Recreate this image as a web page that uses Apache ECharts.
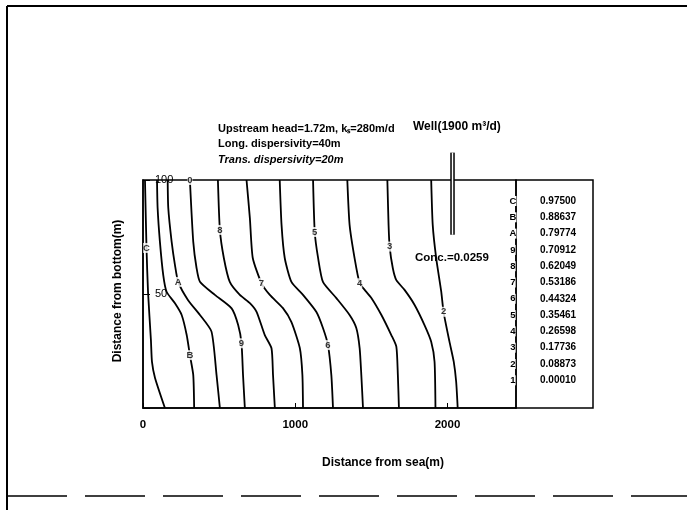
<!DOCTYPE html>
<html>
<head>
<meta charset="utf-8">
<script src="https://cdn.jsdelivr.net/npm/echarts@6/dist/echarts.min.js"></script>
<style>
  html, body { margin: 0; padding: 0; background: #fff; }
  #chart { width: 687px; height: 510px; }
</style>
</head>
<body>
<div id="chart"></div>
<script>
// contour lines, [distance from sea (m), distance from bottom (m)]
var lineC = [[13, 100], [23, 70.2], [33, 50.9], [52, 29.8], [59, 20.2], [79, 13.2], [144, 0]];
var lineB = [[92, 100], [96, 87.7], [111, 73], [133, 58.3], [155, 51], [210, 45.9], [254, 40.8], [287, 32], [308, 23.2], [330, 14.5], [336, 0]];
var lineA = [[162, 100], [166, 87.7], [188, 73], [210, 62.7], [231, 55.3], [295, 47.4], [374, 40.8], [450, 33.5], [483, 14.5], [505, 0]];
var line9 = [[308, 100], [330, 73], [352, 61.3], [374, 55.4], [472, 49.6], [582, 43.7], [625, 36.4], [647, 28.4], [657, 14.5], [669, 0]];
var line8 = [[492, 100], [505, 78.1], [531, 65.8], [570, 55.3], [636, 49.6], [702, 46], [746, 42.2], [800, 32], [844, 26.2], [854, 14.5], [866, 0]];
var line7 = [[680, 100], [702, 83.3], [721, 65.8], [778, 54.8], [833, 49.6], [918, 43.9], [975, 37.7], [1030, 26.3], [1047, 14.5], [1051, 0]];
var line6 = [[898, 100], [910, 80.3], [931, 65.8], [975, 55.3], [1051, 49.6], [1139, 42.1], [1182, 35.1], [1215, 27.6], [1237, 14.5], [1248, 0]];
var line5 = [[1117, 100], [1128, 77.2], [1150, 65.8], [1182, 55.3], [1270, 48.2], [1357, 40.8], [1401, 35.1], [1423, 26.3], [1434, 14.5], [1445, 0]];
var line4 = [[1342, 100], [1357, 80.3], [1390, 65.6], [1423, 54.7], [1456, 51.8], [1500, 48.3], [1566, 40.8], [1631, 32], [1664, 26.9], [1674, 14.5], [1681, 0]];
var line3 = [[1605, 100], [1613, 80.3], [1620, 70.8], [1641, 61.3], [1664, 56.1], [1718, 51.8], [1784, 45.2], [1849, 36.4], [1893, 29.1], [1915, 20.3], [1921, 0]];
var line2 = [[1893, 100], [1903, 80.3], [1926, 65.6], [1959, 51], [1974, 42.2], [2013, 29.1], [2041, 20.3], [2057, 11.5], [2067, 0]];

// label of each contour and where it sits on the line
var contourLabels = [
  [23, 70.2, 'C'], [308, 23.2, 'B'], [231, 55.3, 'A'], [647, 28.4, '9'],
  [505, 78.1, '8'], [778, 54.8, '7'], [1215, 27.6, '6'], [1128, 77.2, '5'],
  [1423, 54.7, '4'], [1620, 70.8, '3'], [1974, 42.2, '2'], [308, 100, '0']
];

// well screen
var well = [[2033, 112], [2033, 76]];

// key
var levelNames = ['C', 'B', 'A', '9', '8', '7', '6', '5', '4', '3', '2', '1'];
var levelValues = ['0.97500', '0.88637', '0.79774', '0.70912', '0.62049', '0.53186',
                   '0.44324', '0.35461', '0.26598', '0.17736', '0.08873', '0.00010'];

var xTicks = [0, 1000, 2000];
var yTicks = [50, 100];

var FONT = 'Liberation Sans, Arial, sans-serif';

var contours = [lineC, lineB, lineA, line9, line8, line7, line6, line5, line4, line3, line2];
var series = contours.map(function (d) {
  return {
    type: 'line',
    data: d,
    smooth: 0.2,
    symbol: 'none',
    silent: true,
    lineStyle: { color: '#000', width: 1.8 }
  };
});

series.push({
  type: 'line', data: well, symbol: 'none', clip: false, silent: true,
  lineStyle: { color: '#000', width: 4.5 }, z: 5
});
series.push({
  type: 'line', data: well, symbol: 'none', clip: false, silent: true,
  lineStyle: { color: '#fff', width: 1.5 }, z: 6
});

series.push({
  type: 'scatter',
  data: contourLabels,
  symbolSize: 0,
  silent: true,
  clip: false,
  z: 7,
  label: {
    show: true,
    position: 'inside',
    formatter: function (p) { return p.value[2]; },
    color: '#000',
    fontFamily: FONT,
    fontWeight: 'bold',
    fontSize: 9.5,
    backgroundColor: '#fff',
    padding: [0, 0]
  }
});

// key texts
var keyGraphics = [];
levelNames.forEach(function (n, i) {
  var y = 201 + i * 16.3;
  keyGraphics.push({
    type: 'text', x: 513, y: y,
    style: { text: n, fill: '#000', font: 'bold 9.5px ' + FONT, textAlign: 'center', textVerticalAlign: 'middle', backgroundColor: '#fff' },
    z: 10
  });
  keyGraphics.push({
    type: 'text', x: 540, y: y,
    style: { text: levelValues[i], fill: '#000', font: 'bold 10px ' + FONT, textVerticalAlign: 'middle' },
    z: 10
  });
});

var chart = echarts.init(document.getElementById('chart'));
chart.setOption({
  backgroundColor: '#fff',
  animation: false,
  grid: [{
    left: 143, right: 171, top: 180, bottom: 102,
    show: true, borderColor: '#000', borderWidth: 1.5
  }],
  xAxis: {
    type: 'value',
    min: 0, max: 2450, interval: 1000,
    axisLine: { show: true, lineStyle: { color: '#000', width: 1.5 } },
    axisTick: { show: true, inside: true, length: 5, lineStyle: { color: '#000' } },
    splitLine: { show: false },
    axisLabel: {
      color: '#000', fontFamily: FONT, fontSize: 11.5, fontWeight: 'bold', margin: 11,
      showMaxLabel: false,
      formatter: function (v) { return xTicks.indexOf(v) >= 0 ? String(v) : ''; }
    }
  },
  yAxis: {
    type: 'value',
    min: 0, max: 100, interval: 50,
    name: 'Distance from bottom(m)',
    nameLocation: 'middle',
    nameGap: 19,
    nameTextStyle: { color: '#000', fontFamily: FONT, fontSize: 12, fontWeight: 'bold', padding: [0, 0, 0, 6] },
    axisLine: { show: true, lineStyle: { color: '#000', width: 1.5 } },
    axisTick: { show: true, inside: true, length: 7, lineStyle: { color: '#000' } },
    splitLine: { show: false },
    axisLabel: {
      inside: true, color: '#000', fontFamily: FONT, fontSize: 11, margin: 12,
      formatter: function (v) { return yTicks.indexOf(v) >= 0 ? String(v) : ''; }
    }
  },
  series: series,
  graphic: [
    // page frame from the scan
    { type: 'line', shape: { x1: 7, y1: 6, x2: 687, y2: 6 }, style: { stroke: '#000', lineWidth: 2 } },
    { type: 'line', shape: { x1: 7, y1: 6, x2: 7, y2: 510 }, style: { stroke: '#000', lineWidth: 2 } },
    { type: 'line', shape: { x1: 7, y1: 496, x2: 687, y2: 496 }, style: { stroke: '#000', lineWidth: 1.5, lineDash: [60, 18] } },
    // key box
    { type: 'rect', shape: { x: 516, y: 180, width: 77, height: 228 }, style: { fill: 'none', stroke: '#000', lineWidth: 1.5 } },
    // x axis title
    { type: 'text', x: 383, y: 463, style: { text: 'Distance from sea(m)', fill: '#000', font: 'bold 12px ' + FONT, textAlign: 'center', textVerticalAlign: 'middle' } },
    // annotations
    { type: 'text', x: 218, y: 129, style: { text: 'Upstream head=1.72m, k\u209B=280m/d', fill: '#000', font: 'bold 11px ' + FONT, textVerticalAlign: 'middle' } },
    { type: 'text', x: 218, y: 144, style: { text: 'Long. dispersivity=40m', fill: '#000', font: 'bold 11px ' + FONT, textVerticalAlign: 'middle' } },
    { type: 'text', x: 218, y: 160, style: { text: 'Trans. dispersivity=20m', fill: '#000', font: 'italic bold 11px ' + FONT, textVerticalAlign: 'middle' } },
    { type: 'text', x: 413, y: 127, style: { text: 'Well(1900 m\u00B3/d)', fill: '#000', font: 'bold 12px ' + FONT, textVerticalAlign: 'middle' } },
    { type: 'text', x: 415, y: 258, style: { text: 'Conc.=0.0259', fill: '#000', font: 'bold 11.5px ' + FONT, textVerticalAlign: 'middle' } }
  ].concat(keyGraphics)
});
</script>
</body>
</html>
